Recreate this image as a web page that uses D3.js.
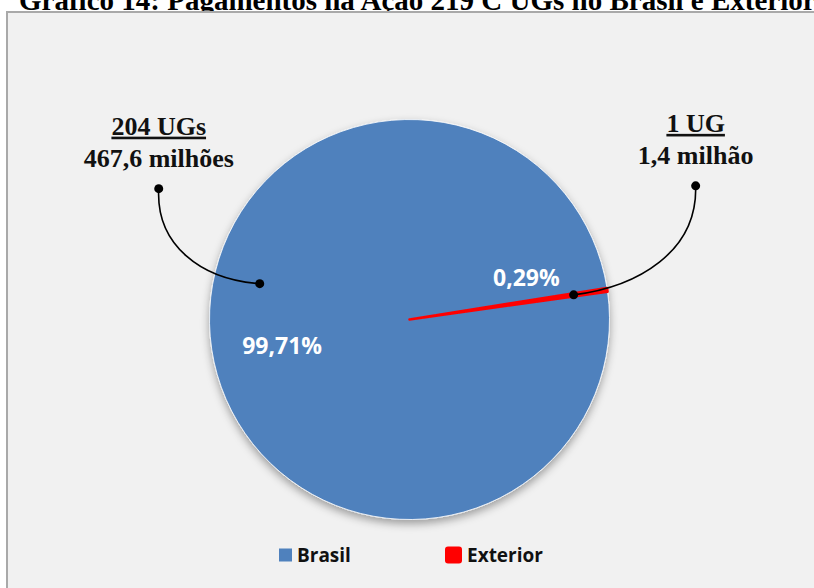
<!DOCTYPE html>
<html lang="pt">
<head>
<meta charset="UTF-8">
<title>Pagamentos UGs Brasil e Exterior</title>
<script src="https://d3js.org/d3.v7.min.js"></script>
<style>
  body { margin: 0; background: #ffffff; overflow: hidden; }
  svg { display: block; }
</style>
</head>
<body>
<div id="chart"></div>
<script>
    // chart data
    const categories = ["Brasil", "Exterior"];
    const values = [467.6, 1.4];            // milhões
    const percentLabels = ["99,71%", "0,29%"];
    const countLabels = ["204 UGs", "1 UG"];
    const amountLabels = ["467,6 milhões", "1,4 milhão"];
    const colors = ["#4f81bd", "#ff0000"];
    const title = "Gráfico 14: Pagamentos na Ação 219 C UGs no Brasil e Exterior";

    const width = 814, height = 588;
    const cx = 409.5, cy = 319.5, radius = 200;

    const svg = d3.select("#chart").append("svg")
        .attr("width", width)
        .attr("height", height);

    const defs = svg.append("defs");
    const shadow = defs.append("filter").attr("id", "shadow")
        .attr("x", "-20%").attr("y", "-20%").attr("width", "140%").attr("height", "140%");
    shadow.append("feDropShadow")
        .attr("dx", 0).attr("dy", 4).attr("stdDeviation", 4)
        .attr("flood-color", "#000").attr("flood-opacity", 0.35);

    // title (cut off at top like the source)
    svg.append("text")
        .attr("x", 19)
        .attr("y", 10)
        .style("font-family", "'Liberation Serif', 'Times New Roman', serif")
        .style("font-weight", "bold")
        .style("font-size", "29px")
        .attr("fill", "#000")
        .text(title);

    // chart frame
    svg.append("rect")
        .attr("x", 7).attr("y", 12)
        .attr("width", width + 10).attr("height", height + 10)
        .attr("fill", "#f1f1f1")
        .attr("stroke", "#a9a9a9")
        .attr("stroke-width", 2);

    // pie, first slice rotated to 82 degrees like Excel
    const startAngle = 82 * Math.PI / 180;
    const pie = d3.pie().sort(null)
        .startAngle(startAngle)
        .endAngle(startAngle + 2 * Math.PI);
    const arcs = pie(values);
    const arc = d3.arc().innerRadius(0).outerRadius(radius);

    const g = svg.append("g").attr("transform", `translate(${cx},${cy})`);

    g.append("g").attr("filter", "url(#shadow)")
        .selectAll("path")
        .data(arcs)
        .enter()
        .append("path")
        .attr("d", arc)
        .attr("fill", (d, i) => colors[i])
        .attr("stroke", (d, i) => i === 1 ? colors[i] : "#ffffff")
        .attr("stroke-width", (d, i) => i === 1 ? 2.5 : 0.8)
        .attr("stroke-linejoin", "round");

    function polar(angle, r) {
        return [r * Math.sin(angle), -r * Math.cos(angle)];
    }
    const mid = d => (d.startAngle + d.endAngle) / 2;
    const deg = Math.PI / 180;

    // percentage labels
    const labelPos = [
        polar(mid(arcs[0]) - 3 * deg, 0.65 * radius),
        polar(mid(arcs[1]) - 11 * deg, 0.62 * radius)
    ];
    g.selectAll(".pct")
        .data(arcs)
        .enter()
        .append("text")
        .attr("class", "pct")
        .attr("x", (d, i) => labelPos[i][0])
        .attr("y", (d, i) => labelPos[i][1])
        .attr("dy", "0.35em")
        .attr("text-anchor", "middle")
        .style("font-family", "'Open Sans', sans-serif")
        .style("font-weight", "bold")
        .style("font-size", "23px")
        .attr("fill", "#ffffff")
        .text((d, i) => percentLabels[i]);

    // callouts: inner dot on slice, outer dot under the text
    const inner = [
        polar(mid(arcs[0]) + 22 * deg, 0.77 * radius),
        polar(mid(arcs[1]), 0.83 * radius)
    ];
    const outer = [
        [inner[0][0] - 101, inner[0][1] - 95],
        [inner[1][0] + 122, inner[1][1] - 109]
    ];
    const curves = [
        (a, b) => `M${b[0]},${b[1]} C${b[0] - 3},${b[1] + 56} ${b[0] + 42},${a[1] - 4} ${a[0]},${a[1]}`,
        (a, b) => `M${b[0]},${b[1]} C${b[0] + 2},${b[1] + 66} ${b[0] - 58},${a[1] - 8} ${a[0]},${a[1]}`
    ];

    arcs.forEach(function (d, i) {
        const a = inner[i], b = outer[i];
        g.append("path")
            .attr("d", curves[i](a, b))
            .attr("fill", "none")
            .attr("stroke", "#000")
            .attr("stroke-width", 1.6);
        g.append("circle").attr("cx", a[0]).attr("cy", a[1]).attr("r", 4.5).attr("fill", "#000");
        g.append("circle").attr("cx", b[0]).attr("cy", b[1]).attr("r", 4.5).attr("fill", "#000");

        const t = g.append("text")
            .attr("x", b[0])
            .attr("text-anchor", "middle")
            .style("font-family", "'Liberation Serif', 'Times New Roman', serif")
            .style("font-weight", "bold")
            .style("font-size", "26px")
            .attr("fill", "#111");
        t.append("tspan").attr("x", b[0]).attr("y", b[1] - 54)
            .style("text-decoration", "underline")
            .text(countLabels[i]);
        t.append("tspan").attr("x", b[0]).attr("y", b[1] - 22)
            .text(amountLabels[i]);
    });

    // legend
    const legendX = [279, 445];
    const legend = svg.append("g");
    categories.forEach(function (c, i) {
        const item = legend.append("g").attr("transform", `translate(${legendX[i]},555)`);
        const s = i === 0 ? 13 : 17;
        item.append("rect")
            .attr("x", 0).attr("y", -s / 2)
            .attr("width", s).attr("height", s)
            .attr("rx", i === 0 ? 0 : 3)
            .attr("fill", colors[i]);
        item.append("text")
            .attr("x", s + 5)
            .attr("y", 0)
            .attr("dy", "0.35em")
            .style("font-family", "'Open Sans', sans-serif")
            .style("font-weight", "bold")
            .style("font-size", "19px")
            .attr("fill", "#111")
            .text(c);
    });
</script>
</body>
</html>
